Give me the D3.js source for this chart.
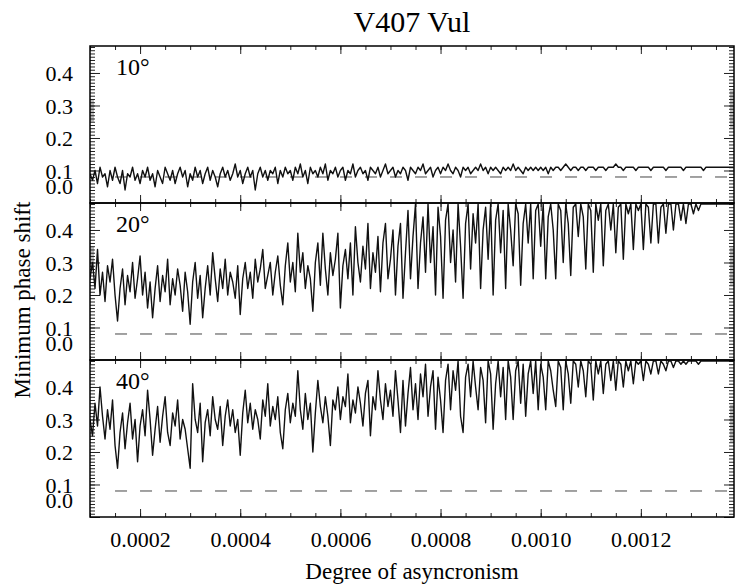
<!DOCTYPE html>
<html>
<head>
<meta charset="utf-8">
<script src="https://cdn.jsdelivr.net/npm/d3@7"></script>
<style>
body { margin: 0; background: #fff; }
text { font-family: "Liberation Serif", "DejaVu Serif", serif; fill: #000; }
</style>
</head>
<body>
<svg id="chart" width="747" height="585"></svg>
<script>
// panel labels (inclination) and the sampled x grid
var panelNames = ["10°", "20°", "40°"];
var xStart = 0.0001, xStep = 0.000005;

// minimum phase shift, one value per x step
var shift10 = [
 0.09,0.07,0.1,0.06,0.11,0.08,0.09,0.05,0.1,0.07,0.11,0.08,0.06,0.1,0.04,0.09,0.08,0.11,0.07,0.09,
 0.06,0.1,0.08,0.11,0.07,0.09,0.05,0.1,0.08,0.06,0.11,0.09,0.07,0.1,0.06,0.09,0.11,0.08,0.1,0.05,
 0.09,0.07,0.11,0.08,0.1,0.06,0.09,0.11,0.07,0.1,0.08,0.05,0.09,0.11,0.08,0.1,0.07,0.09,0.12,0.08,
 0.1,0.06,0.09,0.11,0.08,0.1,0.04,0.09,0.11,0.08,0.1,0.07,0.1,0.09,0.11,0.06,0.1,0.08,0.11,0.09,
 0.1,0.07,0.11,0.09,0.12,0.08,0.1,0.06,0.11,0.09,0.1,0.08,0.11,0.09,0.12,0.07,0.1,0.09,0.11,0.08,
 0.1,0.11,0.07,0.1,0.09,0.12,0.08,0.1,0.11,0.09,0.1,0.07,0.11,0.1,0.09,0.11,0.08,0.1,0.12,0.09,
 0.1,0.11,0.08,0.1,0.09,0.11,0.1,0.07,0.11,0.1,0.09,0.11,0.1,0.12,0.09,0.1,0.11,0.08,0.1,0.11,
 0.09,0.11,0.1,0.12,0.1,0.09,0.11,0.1,0.08,0.11,0.1,0.11,0.09,0.1,0.11,0.1,0.12,0.1,0.11,0.09,
 0.11,0.1,0.11,0.1,0.09,0.11,0.1,0.11,0.1,0.12,0.1,0.11,0.1,0.09,0.11,0.1,0.11,0.1,0.11,0.1,
 0.11,0.1,0.11,0.09,0.11,0.1,0.11,0.11,0.1,0.11,0.12,0.11,0.1,0.11,0.11,0.1,0.11,0.11,0.1,0.11,
 0.11,0.11,0.1,0.11,0.11,0.11,0.1,0.11,0.11,0.11,0.12,0.11,0.11,0.1,0.11,0.11,0.11,0.11,0.1,0.11,
 0.11,0.11,0.11,0.11,0.1,0.11,0.11,0.11,0.11,0.11,0.1,0.11,0.11,0.11,0.11,0.11,0.11,0.1,0.11,0.11,
 0.11,0.11,0.11,0.11,0.11,0.1,0.11,0.11,0.11,0.11,0.11,0.11,0.11,0.11,0.11,0.11,0.11,0.11
];
var shift20 = [
 0.25,0.3,0.22,0.34,0.2,0.27,0.18,0.29,0.24,0.31,0.2,0.12,0.22,0.28,0.17,0.26,0.21,0.3,0.19,0.25,
 0.32,0.2,0.27,0.16,0.24,0.13,0.22,0.29,0.18,0.26,0.21,0.31,0.17,0.25,0.2,0.28,0.23,0.15,0.27,0.21,
 0.11,0.24,0.3,0.19,0.26,0.13,0.22,0.29,0.2,0.33,0.25,0.18,0.28,0.22,0.31,0.2,0.27,0.24,0.19,0.29,
 0.14,0.25,0.3,0.22,0.27,0.19,0.31,0.24,0.28,0.34,0.22,0.26,0.3,0.2,0.27,0.32,0.23,0.17,0.29,0.36,
 0.24,0.3,0.21,0.39,0.27,0.33,0.22,0.29,0.25,0.15,0.3,0.36,0.23,0.39,0.28,0.2,0.33,0.26,0.31,0.39,
 0.16,0.29,0.34,0.25,0.36,0.2,0.41,0.3,0.24,0.35,0.28,0.42,0.22,0.33,0.27,0.38,0.21,0.36,0.42,0.25,
 0.31,0.4,0.2,0.35,0.42,0.19,0.33,0.46,0.25,0.38,0.48,0.22,0.36,0.44,0.27,0.48,0.3,0.41,0.2,0.47,
 0.38,0.19,0.43,0.48,0.3,0.4,0.24,0.48,0.35,0.19,0.42,0.48,0.28,0.45,0.36,0.48,0.22,0.4,0.47,0.31,
 0.48,0.2,0.43,0.48,0.33,0.46,0.22,0.48,0.4,0.29,0.48,0.45,0.23,0.42,0.48,0.36,0.48,0.25,0.46,0.48,
 0.35,0.48,0.25,0.44,0.48,0.4,0.25,0.48,0.46,0.3,0.48,0.42,0.26,0.47,0.48,0.38,0.48,0.44,0.28,0.48,
 0.46,0.27,0.48,0.43,0.48,0.29,0.46,0.48,0.4,0.48,0.33,0.47,0.48,0.31,0.48,0.45,0.48,0.34,0.48,0.46,
 0.48,0.34,0.48,0.47,0.36,0.48,0.48,0.36,0.47,0.48,0.39,0.48,0.48,0.4,0.48,0.48,0.43,0.48,0.42,0.48,
 0.48,0.45,0.48,0.46,0.48,0.48,0.48,0.48,0.48,0.48,0.48,0.48,0.48,0.48,0.48,0.48,0.48,0.48
];
var shift40 = [
 0.3,0.25,0.35,0.28,0.4,0.31,0.24,0.33,0.27,0.36,0.22,0.15,0.26,0.32,0.21,0.29,0.35,0.24,0.3,0.17,
 0.28,0.33,0.25,0.39,0.3,0.19,0.27,0.34,0.23,0.31,0.37,0.26,0.22,0.32,0.28,0.36,0.24,0.3,0.27,0.21,
 0.15,0.41,0.3,0.26,0.35,0.17,0.29,0.33,0.25,0.37,0.3,0.27,0.34,0.22,0.31,0.36,0.28,0.33,0.26,0.3,
 0.19,0.32,0.39,0.29,0.35,0.27,0.33,0.3,0.24,0.36,0.31,0.41,0.28,0.34,0.3,0.37,0.26,0.21,0.33,0.38,
 0.29,0.35,0.31,0.45,0.33,0.27,0.38,0.3,0.35,0.2,0.32,0.42,0.34,0.29,0.37,0.31,0.22,0.36,0.33,0.4,
 0.3,0.37,0.34,0.44,0.29,0.36,0.32,0.4,0.35,0.28,0.38,0.42,0.25,0.37,0.33,0.45,0.36,0.3,0.41,0.34,
 0.39,0.31,0.45,0.36,0.26,0.42,0.28,0.38,0.46,0.33,0.41,0.3,0.44,0.37,0.47,0.31,0.4,0.45,0.27,0.43,
 0.36,0.26,0.42,0.47,0.33,0.45,0.39,0.48,0.31,0.26,0.43,0.47,0.37,0.48,0.4,0.33,0.46,0.42,0.29,0.48,
 0.44,0.27,0.41,0.48,0.37,0.46,0.3,0.48,0.43,0.3,0.45,0.48,0.35,0.47,0.31,0.44,0.48,0.38,0.48,0.33,
 0.47,0.43,0.33,0.48,0.45,0.39,0.34,0.48,0.46,0.33,0.48,0.44,0.35,0.48,0.47,0.4,0.48,0.45,0.37,0.48,
 0.47,0.36,0.48,0.44,0.48,0.38,0.47,0.48,0.42,0.48,0.39,0.48,0.47,0.4,0.48,0.45,0.48,0.41,0.48,0.47,
 0.48,0.42,0.48,0.47,0.44,0.48,0.48,0.44,0.48,0.47,0.45,0.48,0.48,0.46,0.48,0.48,0.47,0.48,0.47,0.48,
 0.48,0.48,0.48,0.47,0.48,0.48,0.48,0.48,0.48,0.48,0.48,0.48,0.48,0.48,0.48,0.48,0.48,0.48
];
var seriesList = [shift10, shift20, shift40];

var xTicks = [0.0002, 0.0004, 0.0006, 0.0008, 0.0010, 0.0012];
var xTickLabels = ["0.0002", "0.0004", "0.0006", "0.0008", "0.0010", "0.0012"];
var yTicks = [0.0, 0.1, 0.2, 0.3, 0.4];
var yTickLabels = ["0.0", "0.1", "0.2", "0.3", "0.4"];
var refLevel = 0.08;
// faint grey marks on the frame of the scanned figure: [panel, side, from, to]
var frameShades = [[0, "l", 0.25, 0.32], [1, "l", 0.28, 0.35],
                   [0, "r", 0.23, 0.345], [1, "r", 0.23, 0.345], [2, "r", 0.23, 0.345]];

var svg = d3.select("#chart");
var left = 90, right = 734, plotTop = 46, panelH = 157;
var serif = "'Liberation Serif', 'DejaVu Serif', serif";

var x = d3.scaleLinear().domain([0.0001, 0.001386]).range([left, right]);
var y = d3.scaleLinear().domain([0, 0.483]).range([panelH, 0]);

var xMinor = d3.range(2, 28).map(function(k) { return k * 0.00005; });
var yMinor = d3.range(0, 49).map(function(k) { return k / 100; });

svg.append("defs").append("clipPath").attr("id", "clip")
  .append("rect").attr("x", left).attr("y", 0).attr("width", right - left).attr("height", panelH);

var line = d3.line()
  .x(function(d, i) { return x(xStart + i * xStep); })
  .y(function(d) { return y(d); });

function noDomain(g) { g.select(".domain").remove(); }

seriesList.forEach(function(series, k) {
  var g = svg.append("g").attr("transform", "translate(0," + (plotTop + k * panelH) + ")");

  // shades on the frame
  frameShades.filter(function(s) { return s[0] === k; }).forEach(function(s) {
    g.append("rect")
      .attr("x", s[1] === "l" ? left : right - 4)
      .attr("y", y(s[3])).attr("width", 4).attr("height", y(s[2]) - y(s[3]))
      .attr("fill", "#bdbdbd");
  });

  // ticks, inward on all four sides
  g.append("g").attr("transform", "translate(0," + panelH + ")")
    .call(d3.axisBottom(x).tickValues(xMinor).tickSize(-4).tickFormat("")).call(noDomain);
  g.append("g").attr("transform", "translate(0," + panelH + ")")
    .call(d3.axisBottom(x).tickValues(xTicks).tickSize(-8).tickFormat("")).call(noDomain);
  g.append("g")
    .call(d3.axisTop(x).tickValues(xMinor).tickSize(-4).tickFormat("")).call(noDomain);
  g.append("g")
    .call(d3.axisTop(x).tickValues(xTicks).tickSize(-8).tickFormat("")).call(noDomain);

  g.append("g").attr("transform", "translate(" + left + ",0)")
    .call(d3.axisLeft(y).tickValues(yMinor).tickSize(-5).tickFormat("")).call(noDomain);
  g.append("g").attr("transform", "translate(" + right + ",0)")
    .call(d3.axisRight(y).tickValues(yMinor).tickSize(-5).tickFormat("")).call(noDomain);
  g.append("g").attr("transform", "translate(" + right + ",0)")
    .call(d3.axisRight(y).tickValues(yTicks).tickSize(-10).tickFormat("")).call(noDomain);

  var yAx = g.append("g").attr("transform", "translate(" + left + ",0)")
    .call(d3.axisLeft(y).tickValues(yTicks).tickSize(-10).tickPadding(17)
      .tickFormat(function(d, i) { return yTickLabels[i]; }))
    .call(noDomain);
  yAx.selectAll("text").style("font-family", serif).style("font-size", "22px")
    .attr("dy", function(d, i) { return i === 0 ? "-0.42em" : "0.35em"; });
  g.selectAll(".tick line").attr("stroke", "#222");

  // reference level
  g.append("line")
    .attr("x1", x(0.00015)).attr("x2", right - 6)
    .attr("y1", y(refLevel)).attr("y2", y(refLevel))
    .attr("stroke", "#444").attr("stroke-width", 1).attr("stroke-dasharray", "12,13");

  g.append("path").datum(series)
    .attr("clip-path", "url(#clip)")
    .attr("d", line)
    .attr("fill", "none").attr("stroke", "#111").attr("stroke-width", 1.4)
    .attr("stroke-linejoin", "round");

  g.append("rect").attr("x", left).attr("y", 0).attr("width", right - left).attr("height", panelH)
    .attr("fill", "none").attr("stroke", "#000").attr("stroke-width", 1.5);

  g.append("text").attr("x", 116).attr("y", 29)
    .style("font-family", serif).style("font-size", "24px").text(panelNames[k]);
});

// x tick labels under the last panel
var xAx = svg.append("g").attr("transform", "translate(0," + (plotTop + 3 * panelH) + ")")
  .call(d3.axisBottom(x).tickValues(xTicks).tickSize(0).tickPadding(14)
    .tickFormat(function(d, i) { return xTickLabels[i]; }))
  .call(noDomain);
xAx.selectAll("text").style("font-family", serif).style("font-size", "22px");

svg.append("text").attr("x", (left + right) / 2).attr("y", 32)
  .attr("text-anchor", "middle").style("font-family", serif).style("font-size", "30px")
  .text("V407 Vul");
svg.append("text").attr("x", (left + right) / 2).attr("y", 579)
  .attr("text-anchor", "middle").style("font-family", serif).style("font-size", "23px")
  .text("Degree of asyncronism");
svg.append("text").attr("transform", "translate(30,300) rotate(-90)")
  .attr("text-anchor", "middle").style("font-family", serif).style("font-size", "23px")
  .text("Minimum phase shift");
</script>
</body>
</html>
